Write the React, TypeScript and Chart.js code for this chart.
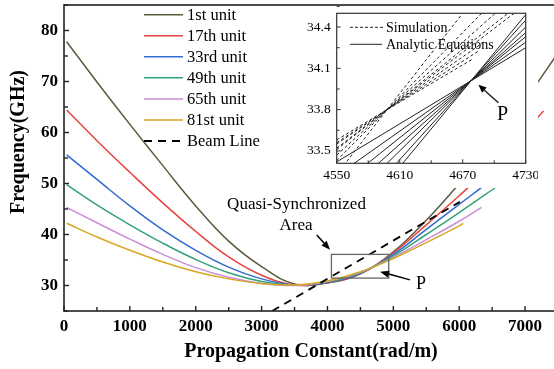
import React, { useEffect, useRef } from "react";
import { Chart, registerables } from "chart.js";
Chart.register(...registerables);

const SERIF = '"Liberation Serif", "Times New Roman", serif';

// ---------- main chart data ----------
const xTicksMain = [0, 1000, 2000, 3000, 4000, 5000, 6000, 7000];
const yTicksMain = [30, 40, 50, 60, 70, 80];

const unitLabels = ["1st unit", "17th unit", "33rd unit", "49th unit", "65th unit", "81st unit"];
const unitColors = ["#5c5b3d", "#e8433f", "#2f6bd0", "#33a27b", "#c98fd6", "#d8a720"];

const unit1Beta = [40, 500, 1000, 1500, 2000, 2500, 3000, 3500, 4000, 4500, 5000, 5500, 6000, 6500, 7000, 7500];
const unit1Freq = [77.8, 69.9, 61.6, 53.5, 45.6, 38.7, 33.7, 30.3, 30.5, 32.3, 36.6, 42.8, 50.0, 57.8, 66.3, 75.6];

const unit17Beta = [40, 500, 1000, 1500, 2000, 2500, 3000, 3500, 4000, 4500, 5000, 5500, 6000, 6500, 7000, 7280];
const unit17Freq = [64.4, 58.4, 52.2, 46.2, 40.6, 35.6, 32.0, 30.1, 30.55, 32.35, 36.4, 41.9, 47.6, 53.6, 60.2, 64.2];

const unit33Beta = [40, 500, 1000, 1500, 2000, 2500, 3000, 3500, 4000, 4500, 5000, 5500, 6000, 6460, 6800];
const unit33Freq = [55.6, 50.8, 45.6, 40.9, 36.9, 33.6, 31.3, 30.1, 30.6, 32.4, 36.1, 41.0, 45.9, 50.4, 53.9];

const unit49Beta = [40, 500, 1000, 1500, 2000, 2500, 3000, 3500, 4000, 4500, 5000, 5500, 6000, 6640];
const unit49Freq = [49.8, 45.8, 41.9, 38.3, 35.1, 32.5, 30.8, 30.1, 30.7, 32.5, 35.8, 40.0, 44.3, 50.0];

const unit65Beta = [40, 500, 1000, 1500, 2000, 2500, 3000, 3500, 4000, 4500, 5000, 5500, 6000, 6340];
const unit65Freq = [45.3, 42.3, 39.1, 36.1, 33.5, 31.6, 30.4, 30.0, 30.8, 32.6, 35.5, 39.0, 42.6, 45.3];

const unit81Beta = [40, 500, 1000, 1500, 2000, 2500, 3000, 3500, 4000, 4500, 5000, 5500, 6000, 6063];
const unit81Freq = [42.2, 39.5, 36.9, 34.6, 32.7, 31.3, 30.4, 30.1, 30.9, 32.7, 35.3, 38.4, 41.7, 42.2];

const beamBeta = [3160, 6010];
const beamFreq = [25.0, 46.4];

const unitBeta = [unit1Beta, unit17Beta, unit33Beta, unit49Beta, unit65Beta, unit81Beta];
const unitFreq = [unit1Freq, unit17Freq, unit33Freq, unit49Freq, unit65Freq, unit81Freq];

// annotations (data units)
const syncBox = [4060, 4930, 31.45, 36.1];
const areaArrow = [3837, 39.9, 4039, 37.0];
const pArrow = [5254, 31.1, 4798, 32.7];
const quasiText = [3530, 45.8];
const areaText = [3523, 41.7];
const pText = [5421, 30.3];

// ---------- inset data ----------
const xTicksInset = [4550, 4610, 4670, 4730];
const yTicksInset = [33.5, 33.8, 34.1, 34.4];

const analyticBeta = [4550, 4678, 4730];
const analyticLeftFreq = [32.83, 32.93, 33.05, 33.14, 33.23, 33.32, 33.42];
const analyticMidFreq = [34.01, 34.01, 34.01, 34.01, 34.01, 34.01, 34.01];
const analyticRightFreq = [34.49, 34.45, 34.40, 34.36, 34.33, 34.29, 34.25];

const simStartBeta = 4550;
const simMidBeta = 4598;
const simStartFreq = [33.33, 33.43, 33.47, 33.51, 33.52, 33.55, 33.56, 33.58];
const simMidFreq = [33.80, 33.80, 33.80, 33.80, 33.80, 33.80, 33.80, 33.80];
const simEndBeta = [4670, 4688, 4701, 4713, 4719, 4690, 4686, 4680];
const simEndFreq = [34.5, 34.5, 34.5, 34.5, 34.5, 34.29, 34.23, 34.17];

const insetPArrow = [4704, 33.85, 4685, 33.98];
const insetPText = [4708, 33.76];

function arrow(ctx: CanvasRenderingContext2D, x1: number, y1: number, x2: number, y2: number, len = 9, half = 3.5) {
  const ang = Math.atan2(y2 - y1, x2 - x1);
  const bx = x2 - len * Math.cos(ang);
  const by = y2 - len * Math.sin(ang);
  ctx.beginPath();
  ctx.moveTo(x1, y1);
  ctx.lineTo(bx, by);
  ctx.stroke();
  ctx.beginPath();
  ctx.moveTo(x2, y2);
  ctx.lineTo(bx + half * Math.sin(ang), by - half * Math.cos(ang));
  ctx.lineTo(bx - half * Math.sin(ang), by + half * Math.cos(ang));
  ctx.closePath();
  ctx.fill();
}

const zeroPad = (s: any) => {
  s.paddingTop = 0;
  s.paddingBottom = 0;
  s.paddingLeft = 0;
  s.paddingRight = 0;
};

const mainDecor = {
  id: "mainDecor",
  afterDraw(chart: any) {
    const { ctx, chartArea: a, scales } = chart;
    const x = scales.x, y = scales.y;
    ctx.save();
    ctx.setLineDash([]);
    ctx.strokeStyle = "#222";
    ctx.lineWidth = 1.6;
    ctx.strokeRect(a.left, a.top, a.right - a.left, a.bottom - a.top);
    // inward ticks
    ctx.lineWidth = 1.4;
    for (let v = 0; v <= 7500; v += 500) {
      const px = x.getPixelForValue(v);
      const l = v % 1000 === 0 ? 5 : 4;
      ctx.beginPath();
      ctx.moveTo(px, a.bottom);
      ctx.lineTo(px, a.bottom - l);
      ctx.stroke();
    }
    for (let v = 25; v <= 85; v += 5) {
      const py = y.getPixelForValue(v);
      const l = v % 10 === 0 ? 5 : 4;
      ctx.beginPath();
      ctx.moveTo(a.left, py);
      ctx.lineTo(a.left + l, py);
      ctx.stroke();
    }
    // axis titles
    ctx.fillStyle = "#000";
    ctx.font = `bold 20px ${SERIF}`;
    ctx.textAlign = "center";
    ctx.textBaseline = "middle";
    ctx.fillText("Propagation Constant(rad/m)", 311, 352);
    ctx.save();
    ctx.translate(19, 142);
    ctx.rotate(-Math.PI / 2);
    ctx.fillText("Frequency(GHz)", 0, 0);
    ctx.restore();
    // legend
    ctx.font = `16.5px ${SERIF}`;
    ctx.textAlign = "left";
    const ds = chart.data.datasets;
    for (let i = 0; i < 7; i++) {
      const yy = 14.7 + i * 21.05;
      ctx.strokeStyle = ds[i].borderColor;
      ctx.lineWidth = ds[i].borderWidth;
      ctx.setLineDash(ds[i].borderDash || []);
      ctx.beginPath();
      ctx.moveTo(144, yy);
      ctx.lineTo(183, yy);
      ctx.stroke();
      ctx.setLineDash([]);
      ctx.fillStyle = "#000";
      ctx.fillText(ds[i].label, 187, yy + 1);
    }
    // annotations
    ctx.strokeStyle = "#666";
    ctx.lineWidth = 1.3;
    const bx1 = x.getPixelForValue(syncBox[0]);
    const bx2 = x.getPixelForValue(syncBox[1]);
    const by1 = y.getPixelForValue(syncBox[3]);
    const by2 = y.getPixelForValue(syncBox[2]);
    ctx.strokeRect(bx1, by1, bx2 - bx1, by2 - by1);
    ctx.strokeStyle = "#000";
    ctx.fillStyle = "#000";
    ctx.lineWidth = 1.5;
    arrow(ctx, x.getPixelForValue(areaArrow[0]), y.getPixelForValue(areaArrow[1]), x.getPixelForValue(areaArrow[2]), y.getPixelForValue(areaArrow[3]));
    arrow(ctx, x.getPixelForValue(pArrow[0]), y.getPixelForValue(pArrow[1]), x.getPixelForValue(pArrow[2]), y.getPixelForValue(pArrow[3]));
    ctx.font = `17px ${SERIF}`;
    ctx.textAlign = "center";
    ctx.fillText("Quasi-Synchronized", x.getPixelForValue(quasiText[0]), y.getPixelForValue(quasiText[1]));
    ctx.fillText("Area", x.getPixelForValue(areaText[0]), y.getPixelForValue(areaText[1]));
    ctx.font = `18px ${SERIF}`;
    ctx.fillText("P", x.getPixelForValue(pText[0]), y.getPixelForValue(pText[1]));
    ctx.restore();
  },
};

const insetDecor = {
  id: "insetDecor",
  beforeDraw(chart: any) {
    const { ctx, width, height } = chart;
    ctx.save();
    ctx.fillStyle = "#fff";
    ctx.fillRect(0, 0, width, height);
    ctx.restore();
  },
  afterDraw(chart: any) {
    const { ctx, chartArea: a, scales } = chart;
    const x = scales.x, y = scales.y;
    ctx.save();
    ctx.setLineDash([]);
    ctx.strokeStyle = "#333";
    ctx.lineWidth = 1.2;
    ctx.strokeRect(a.left, a.top, a.right - a.left, a.bottom - a.top);
    ctx.lineWidth = 1;
    for (let v = 4550; v <= 4730; v += 30) {
      const px = x.getPixelForValue(v);
      const l = (v - 4550) % 60 === 0 ? 4 : 3;
      ctx.beginPath();
      ctx.moveTo(px, a.bottom);
      ctx.lineTo(px, a.bottom - l);
      ctx.stroke();
    }
    for (let k = 0; k <= 7; k++) {
      const v = 33.5 + k * 0.15;
      const py = y.getPixelForValue(v);
      const l = k % 2 === 0 ? 4 : 3;
      ctx.beginPath();
      ctx.moveTo(a.left, py);
      ctx.lineTo(a.left + l, py);
      ctx.stroke();
    }
    // legend
    ctx.strokeStyle = "#222";
    ctx.lineWidth = 1;
    ctx.setLineDash([3, 2]);
    ctx.beginPath();
    ctx.moveTo(52, 21.3);
    ctx.lineTo(85, 21.3);
    ctx.stroke();
    ctx.setLineDash([]);
    ctx.beginPath();
    ctx.moveTo(52, 38.3);
    ctx.lineTo(84, 38.3);
    ctx.stroke();
    ctx.fillStyle = "#000";
    ctx.font = `14px ${SERIF}`;
    ctx.textAlign = "left";
    ctx.textBaseline = "middle";
    ctx.fillText("Simulation", 88, 22);
    ctx.fillText("Analytic Equations", 88, 39);
    // P arrow
    ctx.lineWidth = 1.5;
    arrow(ctx, x.getPixelForValue(insetPArrow[0]), y.getPixelForValue(insetPArrow[1]), x.getPixelForValue(insetPArrow[2]), y.getPixelForValue(insetPArrow[3]), 8, 3.5);
    ctx.font = `20px ${SERIF}`;
    ctx.textAlign = "center";
    ctx.fillText("P", x.getPixelForValue(insetPText[0]), y.getPixelForValue(insetPText[1]));
    ctx.restore();
  },
};

function mainConfig(): any {
  const datasets: any[] = unitLabels.map((label, i) => ({
    label,
    data: unitBeta[i].map((b, j) => ({ x: b, y: unitFreq[i][j] })),
    borderColor: unitColors[i],
    borderWidth: 1.5,
    tension: 0.4,
    pointRadius: 0,
    fill: false,
    order: 6 - i,
  }));
  datasets.push({
    label: "Beam Line",
    data: beamBeta.map((b, j) => ({ x: b, y: beamFreq[j] })),
    borderColor: "#000",
    borderWidth: 1.8,
    borderDash: [8, 6],
    pointRadius: 0,
    fill: false,
    order: -1,
  });
  return {
    type: "line",
    data: { datasets },
    plugins: [mainDecor],
    options: {
      responsive: false,
      animation: false,
      devicePixelRatio: 1,
      layout: { padding: { left: 0, right: 42, top: 5, bottom: 0 } },
      plugins: { legend: { display: false }, tooltip: { enabled: false } },
      elements: { point: { radius: 0 } },
      scales: {
        x: {
          type: "linear",
          min: 0,
          max: 7500,
          afterBuildTicks: (s: any) => { s.ticks = xTicksMain.map((v) => ({ value: v })); },
          afterFit: (s: any) => { s.height = 58; zeroPad(s); },
          grid: { display: false, drawTicks: false },
          border: { display: false },
          ticks: { color: "#000", font: { family: SERIF, size: 17, weight: "bold" }, padding: 5, maxRotation: 0, autoSkip: false, callback: (v: any) => String(v) },
        },
        y: {
          type: "linear",
          min: 25,
          max: 85,
          afterBuildTicks: (s: any) => { s.ticks = yTicksMain.map((v) => ({ value: v })); },
          afterFit: (s: any) => { s.width = 64; zeroPad(s); },
          grid: { display: false, drawTicks: false },
          border: { display: false },
          ticks: { color: "#000", font: { family: SERIF, size: 17, weight: "bold" }, padding: 6, autoSkip: false, callback: (v: any) => String(v) },
        },
      },
    },
  };
}

function insetConfig(): any {
  const datasets: any[] = [];
  for (let i = 0; i < analyticLeftFreq.length; i++) {
    const fr = [analyticLeftFreq[i], analyticMidFreq[i], analyticRightFreq[i]];
    datasets.push({
      data: analyticBeta.map((b, j) => ({ x: b, y: fr[j] })),
      borderColor: "#222",
      borderWidth: 1,
      pointRadius: 0,
      tension: 0,
      fill: false,
    });
  }
  for (let i = 0; i < simStartFreq.length; i++) {
    datasets.push({
      data: [
        { x: simStartBeta, y: simStartFreq[i] },
        { x: simMidBeta, y: simMidFreq[i] },
        { x: simEndBeta[i], y: simEndFreq[i] },
      ],
      borderColor: "#222",
      borderWidth: 1,
      borderDash: [3, 2.5],
      pointRadius: 0,
      tension: 0,
      fill: false,
    });
  }
  return {
    type: "line",
    data: { datasets },
    plugins: [insetDecor],
    options: {
      responsive: false,
      animation: false,
      devicePixelRatio: 1,
      layout: { padding: { left: 0, right: 12.3, top: 7.3, bottom: 0 } },
      plugins: { legend: { display: false }, tooltip: { enabled: false } },
      scales: {
        x: {
          type: "linear",
          min: 4550,
          max: 4730,
          afterBuildTicks: (s: any) => { s.ticks = xTicksInset.map((v) => ({ value: v })); },
          afterFit: (s: any) => { s.height = 24.7; zeroPad(s); },
          grid: { display: false, drawTicks: false },
          border: { display: false },
          ticks: { color: "#000", font: { family: SERIF, size: 13.5 }, padding: 4, maxRotation: 0, autoSkip: false, callback: (v: any) => String(v) },
        },
        y: {
          type: "linear",
          min: 33.41,
          max: 34.5,
          afterBuildTicks: (s: any) => { s.ticks = yTicksInset.map((v) => ({ value: v })); },
          afterFit: (s: any) => { s.width = 38.7; zeroPad(s); },
          grid: { display: false, drawTicks: false },
          border: { display: false },
          ticks: { color: "#000", font: { family: SERIF, size: 13.5 }, padding: 6, autoSkip: false, callback: (v: any) => String(v) },
        },
      },
    },
  };
}

export default function App() {
  const mainRef = useRef<HTMLCanvasElement>(null);
  const insetRef = useRef<HTMLCanvasElement>(null);
  useEffect(() => {
    const main = new Chart(mainRef.current as HTMLCanvasElement, mainConfig());
    const inset = new Chart(insetRef.current as HTMLCanvasElement, insetConfig());
    return () => {
      main.destroy();
      inset.destroy();
    };
  }, []);
  return (
    <div style={{ position: "fixed", left: 0, top: 0, width: 554, height: 369, overflow: "hidden", background: "#fff" }}>
      <canvas ref={mainRef} width={600} height={369} style={{ position: "absolute", left: 0, top: 0, width: 600, height: 369 }} />
      <canvas ref={insetRef} width={240} height={182} style={{ position: "absolute", left: 298, top: 6, width: 240, height: 182 }} />
    </div>
  );
}
